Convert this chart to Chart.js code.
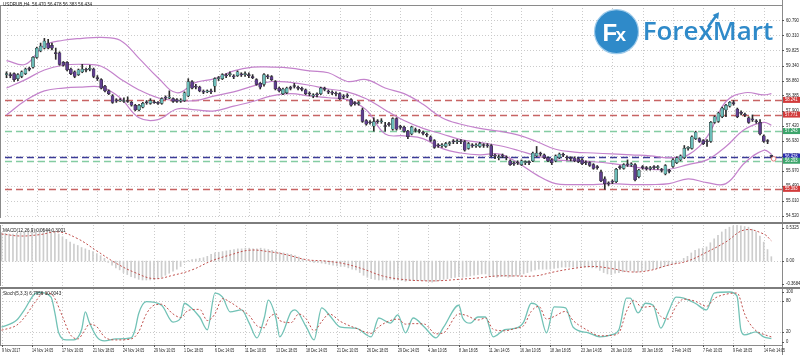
<!DOCTYPE html>
<html><head><meta charset="utf-8">
<script src="https://cdn.jsdelivr.net/npm/chart.js@4.4.1/dist/chart.umd.min.js"></script>
<style>
html,body{margin:0;padding:0;background:#fff;}
#wrap{position:relative;width:800px;height:355px;overflow:hidden;background:#fff;}
#wrap canvas{position:absolute;left:0;}
.sep{position:absolute;left:0;width:800px;height:2px;background:#7d7d7d;}
#logo{position:absolute;left:590px;top:0;width:200px;height:60px;}
</style></head><body>
<div id="wrap">
<canvas id="main" width="800" height="223" style="top:0"></canvas>
<div class="sep" style="top:222px"></div>
<canvas id="macd" width="800" height="64" style="top:224px"></canvas>
<div class="sep" style="top:287px"></div>
<canvas id="stoch" width="800" height="66" style="top:289px"></canvas>
<svg id="logo" width="200" height="60" viewBox="0 0 200 60">
  <circle cx="26.5" cy="31.7" r="22" fill="#2f8ac9" stroke="#9fcbea" stroke-width="1.2"/>
  <text x="12.5" y="40.5" font-family="Liberation Sans, Arial, sans-serif" font-size="24" font-weight="700" fill="#fff">F</text>
  <text x="25.5" y="40.5" font-family="Liberation Sans, Arial, sans-serif" font-size="19" font-weight="700" fill="#fff">x</text>
  <text x="52.7" y="39.5" textLength="130.6" lengthAdjust="spacingAndGlyphs" font-family="Open Sans, Liberation Sans, sans-serif" font-size="25" font-weight="600" fill="#2f8ac9">ForexMart</text>
  <path d="M118 27 L126 16" stroke="#2f8ac9" stroke-width="2.6" fill="none"/>
  <polygon points="129,12.3 128.2,19.2 122.6,15" fill="#2f8ac9"/>
</svg>
</div>
<script>
// ---------------- data ----------------
const symbol = 'USDRUB,H4';
const xLabels = ["9 Nov 2017","14 Nov 14:05","17 Nov 10:05","21 Nov 18:05","24 Nov 14:05","29 Nov 10:05","1 Dec 18:05","6 Dec 14:05","11 Dec 10:05","13 Dec 18:05","18 Dec 14:05","21 Dec 10:05","26 Dec 18:05","29 Dec 14:05","4 Jan 10:05","8 Jan 18:05","11 Jan 14:05","16 Jan 10:05","18 Jan 18:05","23 Jan 14:05","26 Jan 10:05","30 Jan 18:05","2 Feb 14:05","7 Feb 10:05","9 Feb 18:05","14 Feb 14:05"];
const labelStep = 8;

const open = [
59.05,59.05,59.08,58.92,58.99,59.08,59.23,59.29,59.60,59.81,
59.90,60.06,59.99,59.75,59.75,59.44,59.44,59.23,59.14,59.05,
59.14,59.20,59.22,59.23,58.95,58.89,58.68,58.53,58.37,58.22,
58.21,58.19,58.20,58.16,58.07,57.92,58.01,58.16,58.13,58.16,
58.16,58.13,58.31,58.30,58.28,58.25,58.20,58.22,58.37,58.83,
58.68,58.65,58.50,58.50,58.53,58.68,58.92,58.92,59.02,59.05,
58.99,59.02,59.05,59.05,59.05,58.99,58.89,58.77,58.74,58.99,
58.99,58.83,58.62,58.44,58.47,58.62,58.68,58.62,58.59,58.56,
58.44,58.37,58.41,58.44,58.59,58.50,58.47,58.44,58.44,58.34,
58.37,58.25,58.13,58.12,57.92,57.58,57.52,57.40,57.55,57.54,
57.40,57.46,57.30,57.64,57.37,57.37,57.24,57.15,57.27,57.24,
57.18,57.12,57.06,56.94,56.78,56.77,56.75,56.84,56.91,56.90,
56.91,56.91,56.69,56.78,56.77,56.75,56.79,56.78,56.78,56.45,
56.39,56.45,56.39,56.29,56.20,56.23,56.17,56.23,56.24,56.29,
56.45,56.51,56.48,56.39,56.32,56.29,56.39,56.48,56.39,56.36,
56.39,56.36,56.32,56.23,56.23,56.17,56.08,55.93,55.71,55.56,
55.62,55.62,56.08,56.05,56.17,56.16,56.17,55.78,56.08,56.05,
56.04,56.08,56.07,55.99,55.87,55.96,56.11,56.23,56.32,56.39,
56.69,56.69,57.00,57.00,56.94,56.91,56.91,57.52,57.55,57.70,
57.92,58.04,58.13,57.95,57.82,57.76,57.67,57.61,57.55,57.52,
57.09,56.94,56.470];
const high = [
59.14,59.11,59.11,59.08,59.17,59.26,59.29,59.63,59.93,60.06,
60.21,60.18,60.06,59.90,59.78,59.47,59.47,59.26,59.17,59.23,
59.38,59.26,59.35,59.26,59.02,58.92,58.71,58.56,58.41,58.28,
58.28,58.31,58.34,58.19,58.10,58.10,58.16,58.22,58.28,58.22,
58.19,58.31,58.37,58.53,58.31,58.28,58.28,58.50,58.92,58.86,
58.74,58.68,58.56,58.56,58.59,58.95,58.99,59.08,59.08,59.14,
59.05,59.17,59.11,59.14,59.11,59.05,58.92,58.80,59.08,59.05,
59.02,58.86,58.65,58.62,58.65,58.68,58.77,58.68,58.65,58.59,
58.50,58.44,58.47,58.65,58.65,58.56,58.53,58.50,58.47,58.41,
58.44,58.28,58.19,58.19,57.98,57.61,57.58,57.67,57.61,57.64,
57.52,57.52,57.67,57.67,57.43,57.40,57.27,57.40,57.34,57.30,
57.24,57.18,57.09,56.97,56.84,56.84,56.88,56.91,56.97,56.97,
56.97,56.94,56.88,56.84,56.84,56.88,56.84,56.84,56.81,56.51,
56.48,56.51,56.45,56.32,56.26,56.29,56.32,56.29,56.29,56.57,
56.75,56.57,56.51,56.42,56.36,56.48,56.54,56.54,56.45,56.42,
56.42,56.39,56.36,56.29,56.26,56.20,56.14,55.99,55.78,55.62,
55.68,56.05,56.14,56.20,56.32,56.23,56.20,56.02,56.14,56.11,
56.11,56.14,56.14,56.05,56.17,56.02,56.36,56.42,56.48,56.78,
56.75,57.09,57.24,57.03,56.97,56.97,57.55,57.73,57.85,58.01,
58.10,58.19,58.22,57.98,57.89,57.82,57.70,57.76,57.61,57.61,
57.12,56.97,56.478];
const low = [
58.95,58.95,58.83,58.86,58.95,59.05,59.17,59.26,59.57,59.78,
59.87,59.87,59.84,59.54,59.35,59.32,59.17,59.05,58.95,59.02,
59.11,59.14,59.17,58.95,58.86,58.59,58.50,58.41,58.13,58.16,
58.19,58.16,58.16,58.04,57.89,57.89,57.98,58.10,58.10,58.13,
58.10,58.10,58.25,58.28,58.16,58.16,58.16,58.19,58.34,58.59,
58.59,58.50,58.44,58.47,58.44,58.50,58.86,58.89,58.95,58.99,
58.92,58.99,58.99,58.99,58.95,58.92,58.71,58.59,58.68,58.92,
58.86,58.56,58.50,58.41,58.44,58.56,58.62,58.56,58.53,58.41,
58.37,58.31,58.34,58.41,58.53,58.44,58.41,58.37,58.25,58.28,
58.31,58.04,58.07,58.07,57.52,57.43,57.46,57.24,57.49,57.49,
57.24,57.40,57.27,57.27,57.30,57.21,57.00,57.12,57.21,57.18,
57.12,57.06,56.91,56.69,56.72,56.72,56.72,56.78,56.84,56.84,
56.84,56.60,56.66,56.72,56.72,56.72,56.72,56.72,56.42,56.36,
56.32,56.39,56.32,56.14,56.14,56.17,56.14,56.17,56.17,56.26,
56.42,56.45,56.36,56.26,56.17,56.26,56.36,56.42,56.32,56.29,
56.26,56.23,56.17,56.17,56.11,56.02,56.02,55.62,55.38,55.50,
55.56,55.59,56.02,56.02,56.11,56.11,55.65,55.74,56.02,55.99,
55.99,56.02,56.02,55.93,55.84,55.90,56.08,56.20,56.29,56.36,
56.63,56.66,56.97,56.88,56.81,56.75,56.88,57.49,57.52,57.67,
57.70,58.01,58.07,57.67,57.76,57.70,57.49,57.55,57.49,57.12,
56.88,56.84,56.383];
const close = [
59.08,59.02,58.89,59.05,59.14,59.23,59.22,59.60,59.90,59.96,
60.12,59.90,59.90,59.72,59.38,59.35,59.20,59.08,58.99,59.20,
59.23,59.19,59.23,58.99,58.92,58.62,58.53,58.44,58.16,58.21,
58.22,58.22,58.19,58.07,57.92,58.07,58.13,58.15,58.22,58.15,
58.13,58.28,58.30,58.31,58.19,58.19,58.22,58.47,58.83,58.62,
58.65,58.53,58.49,58.53,58.50,58.92,58.93,59.05,59.01,59.06,
58.98,59.14,59.04,59.08,59.02,58.95,58.74,58.65,59.05,58.98,
58.89,58.59,58.53,58.59,58.62,58.61,58.67,58.61,58.58,58.44,
58.43,58.38,58.40,58.62,58.58,58.49,58.46,58.43,58.28,58.33,
58.36,58.07,58.12,58.13,57.55,57.46,57.51,57.55,57.54,57.55,
57.39,57.45,57.64,57.30,57.36,57.24,57.06,57.37,57.26,57.23,
57.17,57.11,56.94,56.72,56.77,56.78,56.84,56.85,56.90,56.91,
56.90,56.63,56.84,56.77,56.78,56.84,56.78,56.77,56.45,56.44,
56.40,56.44,56.38,56.17,56.19,56.22,56.29,56.24,56.23,56.54,
56.54,56.50,56.39,56.29,56.23,56.45,56.51,56.47,56.38,56.35,
56.29,56.26,56.20,56.22,56.14,56.05,56.07,55.65,55.56,55.55,
55.61,56.02,56.07,56.17,56.16,56.17,55.68,55.99,56.07,56.04,
56.05,56.07,56.08,55.98,56.14,55.95,56.32,56.39,56.45,56.69,
56.70,57.06,57.21,56.91,56.84,56.90,57.52,57.70,57.82,57.98,
58.07,58.16,58.12,57.70,57.81,57.75,57.52,57.60,57.54,57.15,
56.91,56.91,56.434];

// Bollinger bands + MACD signal, read at these bar indices
const sampleIdx = [0,5,10,15,20,25,30,35,40,45,50,55,60,65,70,75,80,85,90,95,100,105,110,115,120,125,130,135,140,145,150,155,160,165,170,175,180,185,190,195,200,202];
const bbUpper = [59.50,59.38,59.99,60.15,60.21,60.24,60.15,59.57,58.95,58.47,58.80,58.92,59.17,59.29,59.29,59.26,59.17,59.11,58.83,58.89,58.62,58.44,58.10,57.67,57.46,57.33,57.24,57.12,56.91,56.66,56.57,56.54,56.51,56.48,56.45,56.39,56.48,57.06,58.19,58.47,58.40,58.44];
const bbMiddle = [58.62,58.89,59.20,59.35,59.38,59.32,58.92,58.56,58.31,58.22,58.22,58.37,58.50,58.68,58.83,58.80,58.71,58.59,58.50,58.28,57.92,57.58,57.33,57.15,56.97,56.88,56.78,56.63,56.45,56.32,56.29,56.26,56.20,56.11,56.02,56.02,56.17,56.32,56.75,57.30,57.52,57.43];
const bbLower = [57.76,58.22,58.53,58.62,58.65,58.65,58.31,57.67,57.61,57.95,57.92,57.89,58.04,58.19,58.37,58.44,58.37,58.31,58.25,57.92,57.15,57.09,57.00,56.69,56.54,56.48,56.51,56.23,55.84,55.56,55.53,55.53,55.56,55.53,55.53,55.56,55.71,55.59,55.56,56.23,56.63,56.51];
const macdSignal = [0.40,0.37,0.39,0.43,0.33,0.15,-0.03,-0.17,-0.26,-0.21,-0.13,0.00,0.09,0.16,0.14,0.09,0.02,0.00,-0.04,-0.12,-0.22,-0.27,-0.29,-0.29,-0.27,-0.25,-0.22,-0.22,-0.22,-0.16,-0.11,-0.08,-0.11,-0.16,-0.14,-0.06,0.00,0.13,0.28,0.46,0.40,0.3001];

const macdMain = [
0.42,0.41,0.40,0.40,0.41,0.42,0.43,0.44,0.45,
0.47,0.48,0.48,0.48,0.47,
0.44,0.40,0.36,0.32,0.28,0.25,0.23,
0.20,0.18,0.16,0.14,0.11,0.08,0.04,
-0.02,-0.06,-0.10,-0.13,-0.17,-0.20,-0.23,
-0.25,-0.27,-0.28,-0.28,-0.28,-0.27,-0.26,
-0.24,-0.21,-0.18,-0.15,-0.12,-0.08,-0.02,
0.01,0.02,0.03,0.04,0.05,0.07,0.10,
0.12,0.13,0.14,0.15,0.16,0.17,0.18,
0.18,0.19,0.19,0.18,0.18,0.19,0.18,
0.17,0.16,0.15,0.13,0.12,0.11,0.10,
0.08,0.06,0.03,0.01,-0.01,-0.02,-0.02,
-0.03,-0.04,-0.05,-0.06,-0.07,-0.08,-0.08,
-0.10,-0.12,-0.13,-0.17,-0.21,-0.24,-0.26,
-0.27,-0.28,-0.28,-0.28,-0.27,-0.28,-0.28,
-0.29,-0.30,-0.29,-0.29,-0.29,-0.29,-0.29,
-0.30,-0.31,-0.30,-0.29,-0.27,-0.26,-0.25,
-0.24,-0.23,-0.24,-0.23,-0.22,-0.21,-0.20,
-0.19,-0.19,-0.22,-0.23,-0.24,-0.23,-0.23,
-0.24,-0.23,-0.22,-0.21,-0.19,-0.17,-0.15,
-0.13,-0.12,-0.12,-0.12,-0.12,-0.11,-0.10,
-0.09,-0.09,-0.09,-0.09,-0.09,-0.09,-0.09,
-0.09,-0.10,-0.10,-0.14,-0.17,-0.19,-0.20,
-0.18,-0.17,-0.16,-0.15,-0.14,-0.16,-0.16,
-0.15,-0.14,-0.13,-0.12,-0.11,-0.10,-0.08,
-0.07,-0.05,-0.03,0.00,0.04,0.07,0.12,
0.16,0.18,0.19,0.21,0.27,0.33,0.38,
0.43,0.47,0.50,0.52,0.53,0.52,0.51,
0.50,0.47,0.43,0.37,0.28,0.17,0.0644];

const kIdx = [0,4,6,9,10,13,14,15,17,19,21,22,23,25,27,30,34,35,36,38,42,45,47,48,49,52,54,56,58,60,63,65,67,69,70,72,73,76,77,80,82,84,86,89,93,97,99,102,104,106,108,111,114,116,120,121,123,125,127,129,132,135,137,139,141,143,145,148,150,154,157,160,162,164,165,167,169,171,173,175,177,179,182,185,187,191,193,194,195,198,200,202];
const kVal = [29,43,63,96,97,88,57,18,4,4,24,59,39,10,2,6,8,23,56,79,72,39,47,76,72,49,24,96,88,59,63,37,8,49,82,47,10,59,63,29,4,67,53,29,27,10,47,37,53,18,47,29,8,29,72,47,37,49,49,10,24,27,39,76,67,18,69,67,29,18,10,14,24,86,86,57,76,72,27,59,88,86,76,63,96,98,90,24,14,20,10,6.7956];
const dIdx = [0,4,6,9,11,13,14,16,18,20,22,23,25,27,30,34,36,38,40,42,45,47,49,52,54,56,58,60,63,65,67,69,70,72,73,76,78,80,82,84,86,89,93,97,99,102,104,106,108,111,114,116,120,122,125,127,129,132,135,137,139,141,143,145,148,150,154,157,160,162,164,166,168,171,173,175,177,179,182,185,187,191,193,195,196,198,200,202];
const dVal = [23,33,48,80,96,95,85,50,15,6,25,35,30,10,4,6,20,55,72,74,55,48,62,64,42,55,85,78,63,52,32,28,45,55,42,38,55,45,22,40,55,40,27,17,30,42,45,35,36,35,16,18,55,52,43,47,25,22,27,32,60,70,45,50,60,42,22,12,13,18,60,82,68,70,50,45,70,84,80,70,85,95,96,55,40,22,15,10.0043];

const priceTicks = [60.790,60.310,59.825,59.340,58.860,58.385,57.900,57.420,56.930,56.450,55.970,55.490,55.010,54.520];
const levelValues = [58.241,57.771,57.243,56.428,56.293,55.393];
const levelTypes = ['red','red','green','blue','green','red'];
const macdTicks = [0.5325,0,-0.3684];
const macdTickText = ['0.5325','0.00','-0.3684'];
const stochTicks = [100,80,20,0];
const lastMarker = {x:202.6, y:56.355};

// ---------------- styles ----------------
const FONT = '"Liberation Sans", Arial, sans-serif';
const BULL = '#6dbdb9', BEAR = '#5f3e8e', WICK = '#2b2b2b';
const BAND = '#c483cc';
const LINE_COL = {red:'#c86464', green:'#84cca2', blue:'#3c3c98'};
const BOX_COL = {red:'#d23a3a', green:'#3ca56b', blue:'#2a2ab0'};
const N = close.length;
const xScale = {type:'linear', min:-0.4, max:204.8, offset:false, grace:0, bounds:'data', display:false, grid:{offset:false}};
const pts = (idx, vals) => idx.map((x,k)=>({x, y: vals[k]}));

function txt(ctx, s, x, y, size, color, sx){
  ctx.save(); ctx.font = size+'px '+FONT; ctx.fillStyle = color; ctx.textBaseline = 'middle'; ctx.textAlign = 'left';
  ctx.translate(x, y); ctx.scale(sx, 1); ctx.fillText(s, 0, 0); ctx.restore();
}
function vGrid(chart){
  const {ctx, chartArea:a, scales:{x}} = chart;
  ctx.save(); ctx.strokeStyle = '#cbcbcb'; ctx.lineWidth = 1; ctx.setLineDash([1,2]); ctx.beginPath();
  xLabels.forEach((_,k)=>{ const px = Math.round(x.getPixelForValue(k*labelStep))+0.5; ctx.moveTo(px,a.top); ctx.lineTo(px,a.bottom); });
  ctx.stroke(); ctx.restore();
}
function hGrid(chart, vals){
  const {ctx, chartArea:a, scales:{y}} = chart;
  ctx.save(); ctx.strokeStyle = '#cbcbcb'; ctx.lineWidth = 1; ctx.setLineDash([1,2]); ctx.beginPath();
  vals.forEach(v=>{ const py = Math.round(y.getPixelForValue(v))+0.5; ctx.moveTo(a.left,py); ctx.lineTo(a.right,py); });
  ctx.stroke(); ctx.restore();
}
function frame(chart, top, bottom){
  const {ctx, chartArea:a} = chart;
  ctx.save(); ctx.strokeStyle = '#8a8a8a'; ctx.lineWidth = 1; ctx.beginPath();
  ctx.moveTo(0.5, a.top); ctx.lineTo(0.5, a.bottom);
  ctx.moveTo(Math.round(a.right)+0.5, 0); ctx.lineTo(Math.round(a.right)+0.5, chart.height);
  if (top) { ctx.moveTo(0, a.top+0.5); ctx.lineTo(a.right, a.top+0.5); }
  if (bottom) { ctx.moveTo(0, Math.round(a.bottom)+0.5); ctx.lineTo(a.right, Math.round(a.bottom)+0.5); }
  ctx.stroke(); ctx.restore();
}
function yLabels(chart, vals, texts){
  const {ctx, chartArea:a, scales:{y}} = chart;
  vals.forEach((v,k)=>{
    let py = y.getPixelForValue(v);
    py = Math.min(Math.max(py, a.top+2.5), a.bottom-2.5);
    ctx.save(); ctx.strokeStyle='#555'; ctx.beginPath(); ctx.moveTo(a.right, Math.round(py)+0.5); ctx.lineTo(a.right+2, Math.round(py)+0.5); ctx.stroke(); ctx.restore();
    txt(ctx, texts[k], a.right+4, py, 4.6, '#222', 0.92);
  });
}
const common = {responsive:false, animation:false, events:[], plugins:{legend:{display:false}, tooltip:{enabled:false}}};

// ---------------- main chart ----------------
new Chart(document.getElementById('main'), {
  type:'bar',
  data:{datasets:[
    {type:'bar', order:0, data: close.map((c,i)=>({x:i, y:[open[i], c]})),
     backgroundColor: close.map((c,i)=> c>=open[i] ? BULL : BEAR),
     borderColor: WICK, borderWidth:0.5, borderSkipped:false, barThickness:3, grouped:false, minBarLength:1},
    {type:'bar', order:1, data: close.map((c,i)=>({x:i, y:[low[i], high[i]]})),
     backgroundColor: WICK, barThickness:1, grouped:false},
    {type:'line', order:2, data: pts(sampleIdx, bbUpper), borderColor:BAND, borderWidth:1.2, pointRadius:0, tension:0.4},
    {type:'line', order:2, data: pts(sampleIdx, bbMiddle), borderColor:BAND, borderWidth:1.2, pointRadius:0, tension:0.4},
    {type:'line', order:2, data: pts(sampleIdx, bbLower), borderColor:BAND, borderWidth:1.2, pointRadius:0, tension:0.4},
    {type:'line', order:0, data:[lastMarker], showLine:false, pointRadius:2.3, pointBorderColor:'#e07b7b', pointBackgroundColor:'#fff', pointBorderWidth:1}
  ]},
  options:{...common, layout:{padding:{left:0,right:18,top:0,bottom:0}},
    scales:{x:xScale, y:{min:54.4597, max:61.279, display:false}}},
  plugins:[{id:'mainDecor',
    beforeDatasetsDraw(chart){
      vGrid(chart); hGrid(chart, priceTicks);
      const {ctx, chartArea:a, scales:{y}} = chart;
      levelValues.forEach((v,k)=>{
        const py = Math.round(y.getPixelForValue(v))+0.5;
        ctx.save(); ctx.strokeStyle = LINE_COL[levelTypes[k]]; ctx.lineWidth = 1.5; ctx.setLineDash([7,4]);
        ctx.beginPath(); ctx.moveTo(a.left, py); ctx.lineTo(a.right, py); ctx.stroke(); ctx.restore();
      });
    },
    afterDraw(chart){
      const {ctx, chartArea:a, scales:{y}} = chart;
      frame(chart, true, false);
      yLabels(chart, priceTicks, priceTicks.map(v=>v.toFixed(3)));
      levelValues.forEach((v,k)=>{
        const py = y.getPixelForValue(v);
        ctx.fillStyle = BOX_COL[levelTypes[k]]; ctx.fillRect(a.right+1, py-3, 17, 6);
        txt(ctx, v.toFixed(3), a.right+3, py, 4.6, '#fff', 0.9);
      });
      txt(ctx, symbol+'  '+[open,high,low,close].map(s=>s[N-1].toFixed(3)).join(' '), 3, 5, 4.6, '#222', 1);
    }}]
});

// ---------------- MACD ----------------
new Chart(document.getElementById('macd'), {
  type:'bar',
  data:{datasets:[
    {type:'bar', order:1, data: macdMain.map((v,i)=>({x:i, y:v})), backgroundColor:'#cdcdcd', barThickness:1, grouped:false},
    {type:'line', order:0, data: pts(sampleIdx, macdSignal), borderColor:'#c0504d', borderWidth:1, borderDash:[2,2], pointRadius:0, tension:0.4}
  ]},
  options:{...common, layout:{padding:{left:0,right:18,top:1,bottom:2}},
    scales:{x:xScale, y:{min:-0.3684, max:0.5325, display:false}}},
  plugins:[{id:'macdDecor',
    beforeDatasetsDraw(chart){ vGrid(chart); hGrid(chart, [0]); },
    afterDraw(chart){
      frame(chart, false, false);
      yLabels(chart, macdTicks, macdTickText);
      txt(chart.ctx, 'MACD(12,26,9) '+macdMain[N-1].toFixed(4)+' '+macdSignal[macdSignal.length-1].toFixed(4), 3, 7, 4.6, '#222', 1);
    }}]
});

// ---------------- Stochastic ----------------
new Chart(document.getElementById('stoch'), {
  type:'line',
  data:{datasets:[
    {data: pts(dIdx, dVal), borderColor:'#c0504d', borderWidth:1, borderDash:[2,2], pointRadius:0, cubicInterpolationMode:'monotone'},
    {data: pts(kIdx, kVal), borderColor:'#72c2b6', borderWidth:1.3, pointRadius:0, cubicInterpolationMode:'monotone'}
  ]},
  options:{...common, layout:{padding:{left:0,right:18,top:0,bottom:10}},
    scales:{x:xScale, y:{min:-5.9, max:103.9, display:false}}},
  plugins:[{id:'stochDecor',
    beforeDatasetsDraw(chart){ vGrid(chart); hGrid(chart, [80,20]); },
    afterDraw(chart){
      const {ctx, chartArea:a, scales:{x}} = chart;
      frame(chart, false, true);
      yLabels(chart, stochTicks, stochTicks.map(String));
      txt(ctx, 'Stoch(5,3,3) '+kVal[kVal.length-1].toFixed(4)+' '+dVal[dVal.length-1].toFixed(4), 3, 5, 4.6, '#222', 1);
      xLabels.forEach((s,k)=>{
        const px = Math.round(x.getPixelForValue(k*labelStep));
        ctx.save(); ctx.strokeStyle='#555'; ctx.beginPath(); ctx.moveTo(px+0.5, a.bottom); ctx.lineTo(px+0.5, a.bottom+2); ctx.stroke(); ctx.restore();
        txt(ctx, s, px, a.bottom+6, 4.6, '#222', 0.78);
      });
    }}]
});
</script>
</body></html>
